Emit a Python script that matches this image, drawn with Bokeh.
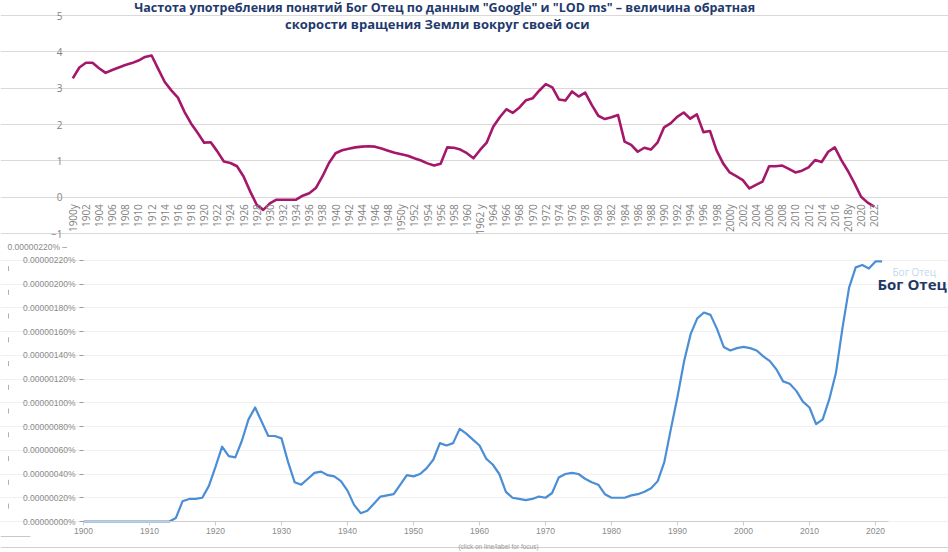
import math
from bokeh.plotting import figure
from bokeh.models import Range1d, FixedTicker, PrintfTickFormatter, Label, ColumnDataSource, Span
from bokeh.layouts import column
from bokeh.core.properties import value
from bokeh.embed import file_html
from bokeh.resources import INLINE

# ---------------- data ----------------
title_line1 = "Частота употребления понятий Бог Отец по данным \"Google\" и \"LOD ms\" – величина обратная"
title_line2 = "скорости вращения Земли вокруг своей оси"

lod_years = list(range(1900, 2023))
lod_ms = [
    3.27, 3.57, 3.70, 3.70, 3.55, 3.42, 3.50, 3.57, 3.64, 3.69,   # 1900-1909
    3.76, 3.86, 3.90, 3.53, 3.17, 2.94, 2.74, 2.35, 2.03, 1.77,   # 1910-1919
    1.50, 1.51, 1.26, 0.98, 0.94, 0.85, 0.57, 0.16, -0.21, -0.35, # 1920-1929
    -0.17, -0.07, -0.07, -0.07, -0.07, 0.04, 0.11, 0.25, 0.57, 0.94,  # 1930-1939
    1.21, 1.29, 1.33, 1.37, 1.39, 1.40, 1.39, 1.34, 1.28, 1.22,   # 1940-1949
    1.18, 1.14, 1.07, 1.01, 0.93, 0.87, 0.92, 1.37, 1.36, 1.31,   # 1950-1959
    1.21, 1.07, 1.30, 1.50, 1.94, 2.20, 2.42, 2.32, 2.47, 2.67,   # 1960-1969
    2.72, 2.93, 3.11, 3.02, 2.69, 2.66, 2.91, 2.77, 2.88, 2.54,   # 1970-1979
    2.24, 2.15, 2.20, 2.26, 1.53, 1.44, 1.25, 1.36, 1.31, 1.50,   # 1980-1989
    1.92, 2.03, 2.21, 2.33, 2.16, 2.28, 1.79, 1.82, 1.29, 0.93,   # 1990-1999
    0.68, 0.58, 0.47, 0.24, 0.34, 0.43, 0.85, 0.85, 0.87, 0.78,   # 2000-2009
    0.68, 0.73, 0.82, 1.02, 0.97, 1.25, 1.37, 1.02, 0.72, 0.38,   # 2010-2019
    0.01, -0.15, -0.26,                                            # 2020-2022
]
lod_yticks = [-1, 0, 1, 2, 3, 4, 5]

cat_years = list(range(1900, 2023, 2))
cat_special = {1900: "1900y", 1950: "1950y", 1962: "1962 y", 2000: "2000y", 2018: "2018y"}

ngram_years = list(range(1900, 2022))
# values in units of 0.00000001 %
ngram_e8 = [
    0, 0, 0, 0, 0, 0, 0, 0, 0, 0,                 # 1900-1909
    0, 0, 0, 0, 3, 17, 19, 19, 20, 30,            # 1910-1919
    46, 63, 55, 54, 68, 86, 96, 84, 72, 72,       # 1920-1929
    70, 50, 33, 31, 36, 41, 42, 39, 38, 34,       # 1930-1939
    26, 14, 7, 9, 15, 21, 22, 23, 31, 39,         # 1940-1949
    38, 40, 45, 52, 66, 64, 66, 78, 74, 69,       # 1950-1959
    64, 53, 48, 40, 25, 20, 19, 18, 19, 21,       # 1960-1969
    20, 24, 37, 40, 41, 40, 36, 33, 31, 23,       # 1970-1979
    20, 20, 20, 22, 23, 25, 28, 34, 50, 78,       # 1980-1989
    105, 135, 158, 171, 176, 174, 162, 147, 144, 146,  # 1990-1999
    147, 146, 144, 139, 135, 128, 118, 116, 110, 101,  # 2000-2009
    96, 82, 86, 103, 125, 163, 197, 214, 216, 213,     # 2010-2019
    219, 219,                                          # 2020-2021
]
ngram_pct = [v * 1e-8 for v in ngram_e8]
ngram_yticks = [i * 2e-7 for i in range(12)]
ngram_xticks = list(range(1900, 2021, 10))
ngram_label = "Бог Отец"
ghost_tick_label = "0.00000220% –"
ngram_caption = "(click on line/label for focus)"

NAVY = "#1f3a6e"
GRAY = "#7f7f7f"
W = 948

# ---------------- top chart (LOD) ----------------
TOP_H = 240
t_ppx = 808 / 123.0                 # pixels per year
t_x0 = 1899.5 - 69 / t_ppx
t_ppy = 218 / 6.0                   # pixels per unit
t_ytop = 5 + 15 / t_ppy
top = figure(width=W, height=TOP_H,
             x_range=Range1d(t_x0, t_x0 + W / t_ppx),
             y_range=Range1d(t_ytop - TOP_H / t_ppy, t_ytop),
             output_backend="svg", toolbar_location=None,
             min_border_left=0, min_border_right=0,
             min_border_top=0, min_border_bottom=0)
top.outline_line_color = None
top.background_fill_color = "white"
top.border_fill_color = "white"
top.xgrid.visible = False
top.ygrid.ticker = FixedTicker(ticks=lod_yticks)
top.ygrid.bounds = (1899.5, 2022.5)
top.ygrid.grid_line_color = "#d9d9d9"
top.ygrid.grid_line_width = 1

ya = top.yaxis[0]
ya.fixed_location = 1899.5
ya.ticker = FixedTicker(ticks=lod_yticks)
ya.axis_line_color = None
ya.major_tick_line_color = None
ya.minor_tick_line_color = None
ya.major_tick_out = 0
ya.major_tick_in = 0
ya.major_label_standoff = 7
ya.major_label_text_font = "Open Sans"
ya.major_label_text_font_size = "10px"
ya.major_label_text_color = GRAY

xa = top.xaxis[0]
xa.fixed_location = 0
xa.ticker = FixedTicker(ticks=cat_years)
xa.major_label_overrides = {k: v for k, v in cat_special.items()}
xa.major_label_orientation = math.pi / 2
xa.axis_line_color = None
xa.major_tick_line_color = None
xa.minor_tick_line_color = None
xa.major_tick_out = 0
xa.major_tick_in = 0
xa.major_label_standoff = 7
xa.major_label_text_font = "Open Sans"
xa.major_label_text_font_size = "10px"
xa.major_label_text_color = GRAY

top.line(lod_years, lod_ms, line_color="#a5176a", line_width=2.6, line_join="round")

top.add_layout(Label(x=1956.6, y=t_ytop - 7 / t_ppy, text=title_line1, text_align="center",
                     text_baseline="middle", text_font="Open Sans", text_font_style="bold",
                     text_font_size="12.5px", text_color=NAVY))
top.add_layout(Label(x=1955.5, y=t_ytop - 23 / t_ppy, text=title_line2, text_align="center",
                     text_baseline="middle", text_font="Open Sans", text_font_style="bold",
                     text_font_size="13px", text_color=NAVY))

# ---------------- bottom chart (Ngram) ----------------
BOT_H = 312
b_ppx = 6.6
b_x0 = 1900 - 83 / b_ppx
b_ppy = 1.1875e8                    # pixels per percent-unit
b_ytop = (281) / b_ppy
bot = figure(width=W, height=BOT_H,
             x_range=Range1d(b_x0, b_x0 + W / b_ppx),
             y_range=Range1d(b_ytop - BOT_H / b_ppy, b_ytop),
             output_backend="svg", toolbar_location=None,
             min_border_left=0, min_border_right=0,
             min_border_top=0, min_border_bottom=0)
bot.outline_line_color = None
bot.background_fill_color = "white"
bot.border_fill_color = "white"
bot.xgrid.visible = False
bot.ygrid.ticker = FixedTicker(ticks=ngram_yticks)
bot.ygrid.bounds = (1900, 2022)
bot.ygrid.grid_line_color = "#f0f0f0"

by = bot.yaxis[0]
by.fixed_location = 1900
by.ticker = FixedTicker(ticks=ngram_yticks)
by.formatter = PrintfTickFormatter(format="%.8f%%")
by.axis_line_color = None
by.major_tick_line_color = "#999999"
by.major_tick_out = 4
by.major_tick_in = 0
by.minor_tick_line_color = None
by.major_label_standoff = 4
by.major_label_text_font = "Liberation Sans"
by.major_label_text_font_size = "8.5px"
by.major_label_text_color = "#8a8a8a"

bx = bot.xaxis[0]
bx.fixed_location = 0
bx.bounds = (1900, 2022)
bx.ticker = FixedTicker(ticks=ngram_xticks)
bx.axis_line_color = "#cccccc"
bx.major_tick_line_color = "#cccccc"
bx.major_tick_out = 4
bx.major_tick_in = 0
bx.minor_tick_line_color = None
bx.major_label_standoff = 2
bx.major_label_text_font = "Liberation Sans"
bx.major_label_text_font_size = "8.5px"
bx.major_label_text_color = "#8a8a8a"

# faint ghost tick marks of a shifted copy of the axis at the far left
ghost_x = b_x0 + 8 / b_ppx
ghost_ys = [t + 1.3e-7 for t in ngram_yticks[:-1]]
bot.scatter([ghost_x] * len(ghost_ys), ghost_ys, marker="dash", angle=math.pi / 2,
            size=5, line_color="#b0b0b0", line_width=1)
bot.segment(x0=[b_x0], y0=[b_ytop - 296 / b_ppy], x1=[b_x0 + 30 / b_ppx],
            y1=[b_ytop - 296 / b_ppy], line_color="#c8c8c8", line_width=1)

bot.line(ngram_years, ngram_pct, line_color="#4a8ed6", line_width=2.2, line_join="round")

bot.add_layout(Span(location=b_ytop - 307 / b_ppy, dimension="width",
                    line_color="#d0d0d0", line_width=1))
bot.add_layout(Label(x=b_x0 + 7 / b_ppx, y=b_ytop - 6 / b_ppy, text=ghost_tick_label,
                     text_align="left", text_baseline="middle", text_font="Liberation Sans",
                     text_font_size="8.5px", text_color="#8a8a8a"))
bot.add_layout(Label(x=b_x0 + 892 / b_ppx, y=b_ytop - 31 / b_ppy, text=ngram_label,
                     text_align="left", text_baseline="middle", text_font="Open Sans",
                     text_font_size="10px", text_color="#c3d7ee"))
bot.add_layout(Label(x=b_x0 + 877 / b_ppx, y=b_ytop - 43 / b_ppy, text=ngram_label,
                     text_align="left", text_baseline="middle", text_font="Open Sans",
                     text_font_style="bold", text_font_size="15px", text_color="#1f3864"))
bot.add_layout(Label(x=b_x0 + 498 / b_ppx, y=b_ytop - 306 / b_ppy, text=ngram_caption,
                     text_align="center", text_baseline="middle", text_font="Liberation Sans",
                     text_font_size="6.5px", text_color="#9a9a9a"))

layout = column(top, bot, spacing=0)
open("out.html", "w").write(file_html(layout, INLINE))
